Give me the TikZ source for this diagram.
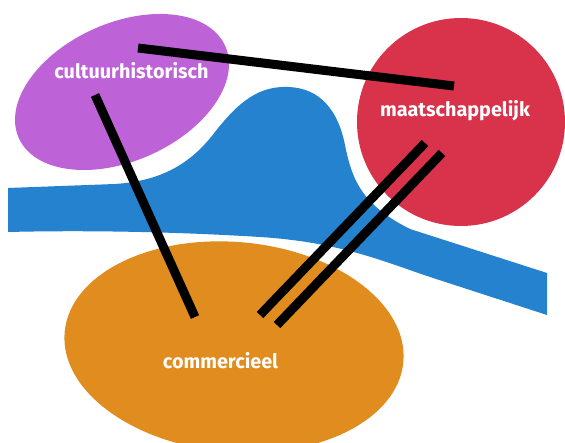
\documentclass[tikz,border=0pt]{standalone}
\usepackage{fontspec}
\setmainfont{Fira Sans}
\definecolor{cpurple}{RGB}{190,99,215}
\definecolor{cred}{RGB}{217,51,76}
\definecolor{corange}{RGB}{224,140,30}
\definecolor{cblue}{RGB}{36,130,206}
\begin{document}
\begin{tikzpicture}[x=1pt,y=-1pt,
  bar/.style={line width=9pt,black},
  lbl/.style={text=white,font=\bfseries\fontsize{19.8}{20}\selectfont,anchor=base,inner sep=0pt}]
\clip (0,0) rectangle (565,443);
\fill[white] (0,0) rectangle (565,443);
% river
\fill[cblue] (8,188) -- (115,184)
  .. controls (160,181) and (190,165) .. (215,132)
  .. controls (240,100) and (260,86) .. (288,87)
  .. controls (320,88) and (338,110) .. (345,145)
  .. controls (352,180) and (362,205) .. (410,229)
  -- (547,273) -- (547,315) -- (430,277)
  .. controls (385,262) and (340,242) .. (260,237)
  .. controls (180,232) and (90,230) .. (8,232) -- cycle;
% bubbles
\fill[cpurple, rotate around={24:(122,92)}] (122,92) ellipse [x radius=113, y radius=69];
\fill[cred] (461,122) circle [radius=104];
\fill[corange, rotate around={-5:(234,347)}] (234,347) ellipse [x radius=170, y radius=105];
% endpoints
\coordinate (c1) at (138,48);
\coordinate (m1) at (454,86);
\coordinate (c2) at (95,95);
\coordinate (o1) at (195,317);
\coordinate (m2) at (425,143);
\coordinate (o2) at (260,315);
\coordinate (m3) at (442,153);
\coordinate (o3) at (277,325);
\draw[bar] (c1) -- (m1);
\draw[bar] (c2) -- (o1);
\draw[bar] (m2) -- (o2);
\draw[bar] (m3) -- (o3);
% labels
\node[lbl] (cult) at (131.5,79) {cultuurhistorisch};
\node[lbl] (maat) at (455,117) {maatschappelijk};
\node[lbl] (comm) at (220.5,369) {commercieel};
\end{tikzpicture}
\end{document}
